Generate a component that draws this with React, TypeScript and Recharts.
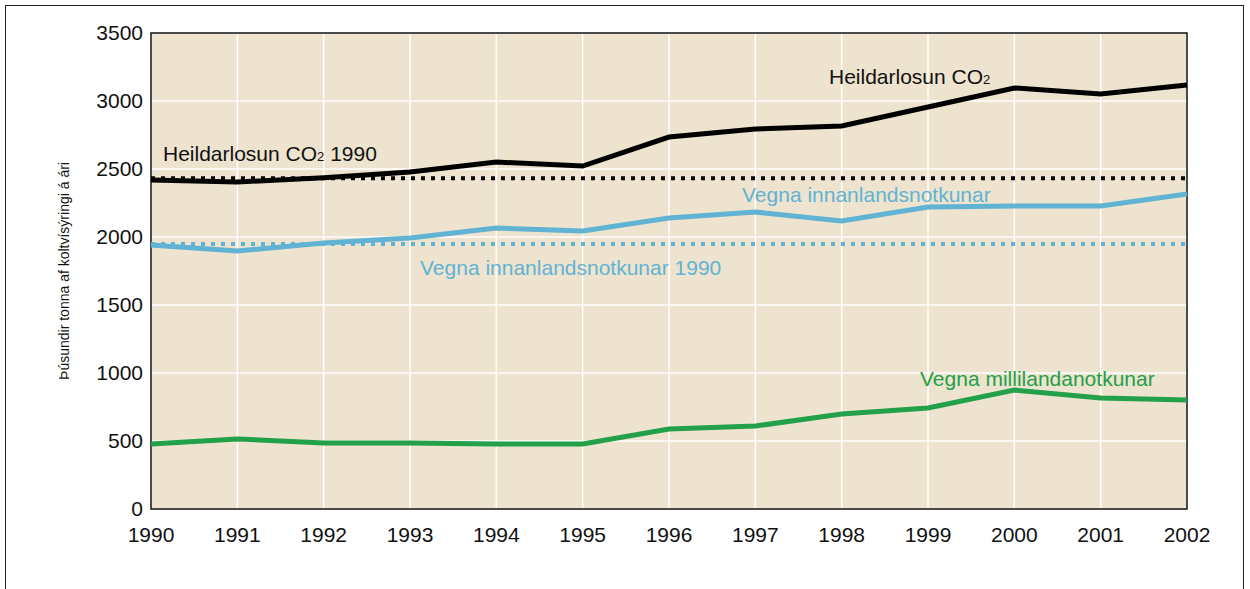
import {
  CartesianGrid,
  Line,
  LineChart,
  ReferenceArea,
  ReferenceLine,
  XAxis,
  YAxis,
} from "recharts";

const years = ["1990", "1991", "1992", "1993", "1994", "1995", "1996", "1997", "1998", "1999", "2000", "2001", "2002"];
const heildarlosun = [2420, 2405, 2435, 2478, 2551, 2522, 2735, 2794, 2816, 2956, 3096, 3052, 3118];
const innanlands = [1941, 1897, 1956, 1993, 2066, 2044, 2140, 2184, 2118, 2221, 2228, 2228, 2316];
const millilanda = [478, 515, 485, 485, 478, 478, 588, 610, 699, 743, 875, 816, 801];
const heildarlosun1990 = 2432;
const innanlands1990 = 1948;
const yTicks = [0, 500, 1000, 1500, 2000, 2500, 3000, 3500];

const BG = "#EEE3CE";
const BLUE = "#61B3D4";
const GREEN = "#22A04A";
const FONT = "'Liberation Sans', Arial, Helvetica, sans-serif";

const data = years.map((year, i) => ({
  year,
  total: heildarlosun[i],
  domestic: innanlands[i],
  intl: millilanda[i],
}));

export default function App() {
  return (
    <div style={{ position: "absolute", left: 0, top: 0, width: 1250, height: 589, overflow: "hidden", background: "#fff", fontFamily: FONT }}>
      <div
        style={{
          position: "absolute",
          left: 5,
          top: 5,
          width: 1239,
          height: 620,
          border: "1.5px solid #222",
          boxSizing: "border-box",
        }}
      />
      <div style={{ position: "absolute", left: 0, top: 0 }}>
        <LineChart
          width={1250}
          height={589}
          data={data}
          margin={{ top: 33, right: 63, bottom: 50, left: 0 }}
        >
          <CartesianGrid fill={BG} stroke="#fff" strokeWidth={1.5} horizontalValues={yTicks} />
          <XAxis
            dataKey="year"
            height={30}
            axisLine={false}
            tickLine={false}
            tickSize={0}
            tickMargin={18}
            interval={0}
            tick={{ fill: "#111", fontSize: 21, fontFamily: FONT }}
          />
          <YAxis
            width={151}
            domain={[0, 3500]}
            ticks={yTicks}
            axisLine={false}
            tickLine={false}
            tickSize={0}
            tickMargin={8}
            tick={{ fill: "#111", fontSize: 21, fontFamily: FONT }}
            label={{
              value: "Þúsundir tonna af koltvísýringi á ári",
              angle: -90,
              position: "insideLeft",
              dx: 59,
              dy: 0,
              style: { fontSize: 14, fill: "#111", fontFamily: FONT, textAnchor: "middle" },
            }}
          />
          <ReferenceLine y={heildarlosun1990} stroke="#000" strokeWidth={4} strokeDasharray="4 6" ifOverflow="visible" />
          <ReferenceLine y={innanlands1990} stroke={BLUE} strokeWidth={4} strokeDasharray="4 6" ifOverflow="visible" />
          <Line type="linear" dataKey="intl" stroke={GREEN} strokeWidth={5} dot={false} isAnimationActive={false} />
          <Line type="linear" dataKey="domestic" stroke={BLUE} strokeWidth={5} dot={false} isAnimationActive={false} />
          <Line type="linear" dataKey="total" stroke="#000" strokeWidth={5} dot={false} isAnimationActive={false} />
          <ReferenceArea
            x1="1990"
            x2="2002"
            y1={0}
            y2={3500}
            fill="none"
            fillOpacity={0}
            stroke="#111"
            strokeWidth={1.5}
            ifOverflow="visible"
          />
        </LineChart>
      </div>
      <svg
        width={1250}
        height={589}
        style={{ position: "absolute", left: 0, top: 0, pointerEvents: "none" }}
        fontFamily={FONT}
        fontSize={21}
      >
        <text x={829} y={84} fill="#111">
          Heildarlosun CO<tspan fontSize={13}>2</tspan>
        </text>
        <text x={163} y={161} fill="#111">
          Heildarlosun CO<tspan fontSize={13}>2</tspan> 1990
        </text>
        <text x={742} y={202} fill={BLUE}>Vegna innanlandsnotkunar</text>
        <text x={420} y={275} fill={BLUE}>Vegna innanlandsnotkunar 1990</text>
        <text x={920} y={386} fill={GREEN}>Vegna millilandanotkunar</text>
      </svg>
    </div>
  );
}
